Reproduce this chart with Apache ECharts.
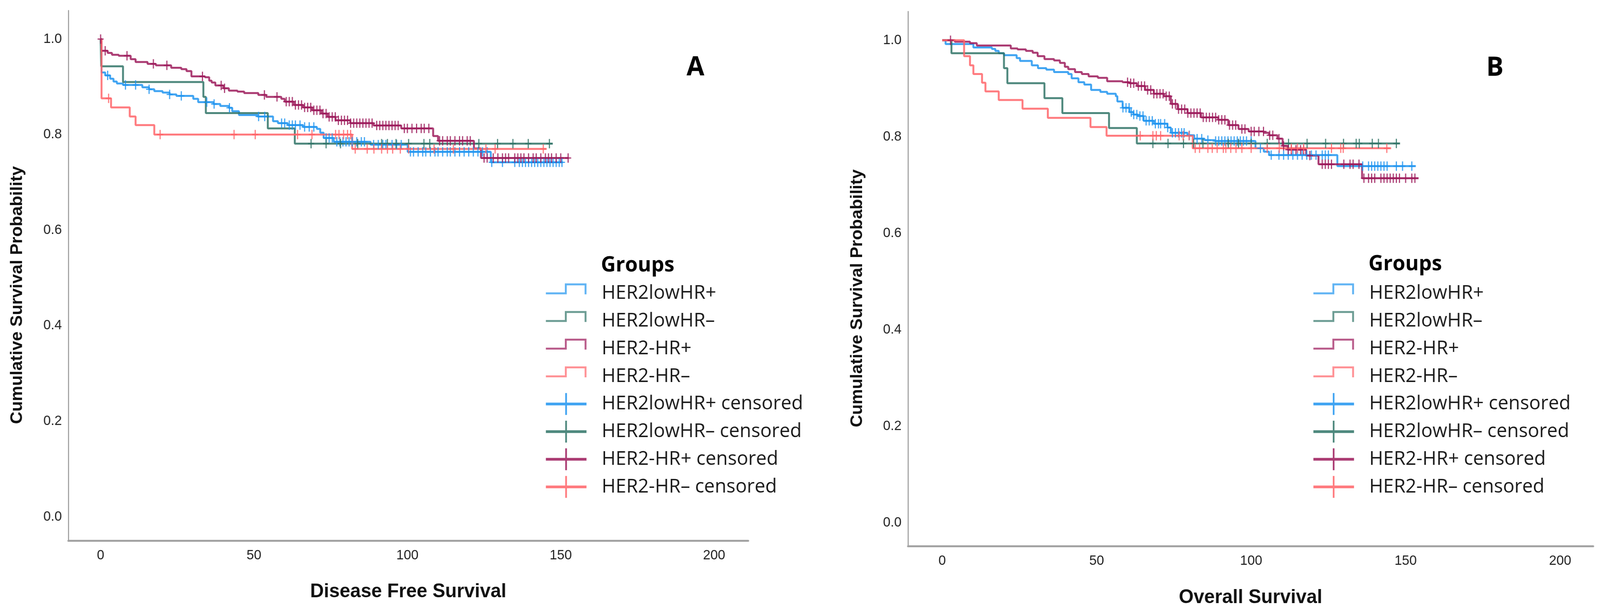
<!DOCTYPE html>
<html><head><meta charset="utf-8">
<script src="https://cdn.jsdelivr.net/npm/echarts@6/dist/echarts.min.js"></script>
<style>html,body{margin:0;padding:0;background:#fff;overflow:hidden}#c{width:4215px;height:1577px;transform-origin:0 0}</style>
</head><body><div id="c"></div>
<script>
const xTicks=[0,50,100,150,200];
const yTicks=[0,0.2,0.4,0.6,0.8,1.0];
const groupNames=['HER2lowHR+','HER2lowHR–','HER2-HR+','HER2-HR–'];
const groupColors=['#1E94F0','#2F7366','#9C1A5B','#FF6469'];
const xTitles=['Disease Free Survival','Overall Survival'];
const panelLetters=['A','B'];
const yTitle='Cumulative Survival Probability';
const legendTitle='Groups';

// Panel A: disease free survival, step points [time, survival]
const dfsLowPos=[[0,1.0],[0.3,0.930],[1.5,0.924],[3.1,0.917],[4.2,0.911],[5.3,0.907],[7.3,0.904],[13.6,0.899],[15.8,0.895],[17.5,0.891],[20.2,0.888],[22.5,0.884],[24.7,0.881],[30.2,0.875],[31.8,0.868],[36.8,0.864],[39,0.860],[41.8,0.856],[42.9,0.849],[45.1,0.841],[51.2,0.838],[56.2,0.828],[57.8,0.824],[61,0.820],[66,0.816],[70.5,0.812],[71.6,0.804],[72.7,0.793],[76,0.785],[88,0.779],[100.1,0.764],[127.2,0.742],[150.7,0.742]];
const dfsLowNeg=[[0,1.0],[0.2,0.943],[7.3,0.910],[33.5,0.879],[34.3,0.845],[54.5,0.813],[63.3,0.781],[147.4,0.781]];
const dfsNegPos=[[0,1.0],[0.3,0.9755],[2.3,0.971],[3.7,0.967],[5.9,0.965],[9.8,0.958],[11.4,0.952],[15.3,0.948],[18,0.945],[23,0.940],[26.3,0.937],[28,0.933],[29.6,0.922],[34,0.920],[35.4,0.913],[36.2,0.909],[37.4,0.903],[40,0.897],[41.8,0.892],[44.6,0.890],[46.8,0.887],[51.4,0.883],[54,0.879],[58.9,0.875],[60,0.869],[63,0.862],[66,0.857],[69,0.851],[72,0.844],[74,0.837],[76.6,0.830],[81.4,0.824],[89,0.819],[98,0.813],[108.4,0.797],[110,0.787],[121.7,0.771],[124,0.751],[152.6,0.751]];
const dfsNegNeg=[[0,1.0],[0.3,0.876],[3.4,0.857],[9.5,0.838],[11.4,0.820],[17.5,0.800],[82,0.770],[145.4,0.770]];
// Panel A censored times
const dfsLowPosCens=[2.3,8.1,11.4,15.8,22.5,26.3,34.6,37,42,51.5,53.5,59,60,61.5,62.5,63.5,65,66.5,68,69.5,73.5,74.5,75.5,77,78,79,80,81,82,83.5,85,86,89,90.5,92,93,95,96.5,98,101,102,103.5,105,106,107.5,109,110,111.5,113,114,115.5,117,118.5,120,121.5,123,124.5,126,127.5,131,135,136.5,137.5,138.5,139.5,140.5,141.5,142.5,143.5,144.5,145.5,146.5,147.5,148.5,149.5,150.4];
const dfsLowNegCens=[68.6,73.5,78.2,83.8,91.6,93.5,96.3,100.4,105.4,107.3,123.3,129.4,134.4,139.4,146.3];
const dfsNegPosCens=[0,1.5,8.6,17.2,21.6,33.2,39.3,40.4,53.4,57.5,60.5,61.5,62.5,63.5,64.5,65.5,66.5,67.5,68.5,69.5,70.5,71.5,72.5,73.5,74.5,75.5,76.5,77.5,78.5,79.5,80.5,81.5,82.5,83.5,84.5,85.5,86.5,87.5,88.5,90,91,92,93,94,95,96,97,99,100,101.5,103,104.5,105.5,107,110.5,111.5,113,114,115.5,117,118,119.5,120.5,125,126,128,129.5,131,132,133,135,136,137,138,139.5,141,142,143.5,145,146,147,148.5,150,152.4];
const dfsNegNegCens=[2.6,19.4,43.5,50.4,64.2,68.9,76.6,77.7,79.2,80.5,81.5,83,86.9,89.1,91.6,93.5,95.2,97.7,100.4,108.7,115,125.6,128.6,144.3];

// Panel B: overall survival
const osLowPos=[[0,1.0],[1.1,0.992],[10.1,0.985],[16.1,0.982],[17.2,0.978],[18.3,0.973],[20,0.969],[24.1,0.963],[25.2,0.957],[29,0.948],[31,0.942],[33.7,0.939],[36.2,0.934],[40.8,0.930],[41.9,0.921],[44.1,0.913],[46,0.908],[48.2,0.897],[51.2,0.893],[53.4,0.889],[56.2,0.884],[56.7,0.873],[58.4,0.860],[60.6,0.851],[61.9,0.846],[63.3,0.843],[65.2,0.833],[68.5,0.827],[72.9,0.819],[74,0.808],[79.4,0.803],[81.6,0.796],[84.9,0.793],[88.2,0.791],[101.4,0.776],[104.1,0.769],[105.8,0.762],[127.9,0.739],[153.3,0.739]];
const osLowNeg=[[0,1.0],[3,0.973],[20,0.942],[21.1,0.911],[33.1,0.880],[38.9,0.849],[54,0.818],[63,0.786],[148.2,0.786]];
const osNegPos=[[0,1.0],[4.1,0.997],[9,0.994],[11.2,0.989],[22.2,0.983],[24.4,0.981],[27.1,0.978],[29.3,0.974],[30.9,0.967],[33.1,0.961],[36.2,0.958],[38.1,0.953],[39.7,0.945],[40.8,0.940],[43,0.934],[45.2,0.930],[47.4,0.925],[50.4,0.922],[53.4,0.915],[58.4,0.913],[60.6,0.911],[63,0.905],[65.7,0.897],[68.5,0.889],[71.8,0.884],[74,0.868],[76.2,0.857],[79.4,0.849],[83.8,0.840],[89.3,0.835],[92.6,0.824],[95.9,0.816],[99.2,0.811],[104.1,0.808],[105.8,0.803],[108.5,0.796],[110.2,0.781],[111.8,0.773],[117.8,0.761],[121.8,0.743],[135.9,0.714],[154.2,0.714]];
const osNegNeg=[[0,1.0],[7.1,0.967],[9,0.948],[10.1,0.930],[12.9,0.912],[14,0.894],[18.3,0.876],[26,0.858],[34.2,0.839],[48,0.820],[53.2,0.802],[81.1,0.776],[145.3,0.776]];
// Panel B censored times
const osLowPosCens=[58.5,59.5,60.5,61.2,62,63,64,65,66,67,68,69,70,70.7,72,73,74.5,75.5,76.5,77.5,78.3,80,82.5,84,86,88.5,89.5,90.5,91.5,92.5,93.5,94.5,95.5,96.5,97.5,98.5,100,103,106.5,109,110.5,112,113.5,115,116.5,118,119.5,121,123,124,125,136.1,138,139,140,141,142,143,144,147,149,152];
const osLowNegCens=[68.2,73.1,78.1,81.4,84.4,92.6,95.9,100,105.2,112.1,118.1,124.1,129.9,134,135,139.2,141.2,147];
const osNegPosCens=[2.7,60,61,62,63.5,64.5,65.5,66.5,67.5,68.5,69.5,70.5,71.5,72.5,73.5,74.5,75.5,76.5,77.5,78.5,79.5,80.5,81.5,82.5,83.5,84.5,85.5,86.5,87.5,88.5,89.5,90.5,91.5,93,94,95,97,98,100,101,102.5,104,106,107,109,110.5,112,113,114.5,116,117,119,123,124,125,126,130,132,133,134.9,136.5,138,139,140,142,143,144,145,146,147,148,150,152,153];
const osNegNegCens=[64.1,68.2,69.3,70.7,76.7,78,79.9,81.9,83.3,86,87.4,89,91,91.8,93.4,95.1,97,100,105.2,109.1,113,115,117,126,129,129.8,143.9];

const panels=[
  {curves:[dfsLowPos,dfsLowNeg,dfsNegPos,dfsNegNeg],cens:[dfsLowPosCens,dfsLowNegCens,dfsNegPosCens,dfsNegNegCens]},
  {curves:[osLowPos,osLowNeg,osNegPos,osNegNeg],cens:[osLowPosCens,osLowNegCens,osNegPosCens,osNegNegCens]}
];

function survAt(curve,t){let v=curve[0][1];for(const p of curve){if(p[0]<=t)v=p[1];else break;}return v;}

const STEP_ICON='path://M0,28H50V5H107V33H102V10H55V33H0Z M0,56L0.01,56L0,56Z';
const CROSS_ICON='path://M0,24.5H107V31.5H0Z M51,0H55.5V56H51Z';
const CENS_SYMBOL='path://M6.5,0H9.5V24H6.5Z M0,10.5H16V13.5H0Z';

const grids=[
  {left:180,right:2244,top:27,bottom:193},
  {left:2392,right:18,top:29.5,bottom:179}
];
const xRanges=[[-10.52,211.1],[-11.06,210.7]];
const yRanges=[[-0.0499,1.0597],[-0.0486,1.0595]];
const xNameGaps=[106,107];
const yNameGaps=[112,111];

const axisFont='Liberation Sans';
const legendFont='Open Sans';
const xAxes=[],yAxes=[],series=[],legends=[],graphics=[];
panels.forEach((p,pi)=>{
  xAxes.push({type:'value',gridIndex:pi,min:xRanges[pi][0],max:xRanges[pi][1],
    name:xTitles[pi],nameLocation:'middle',nameGap:xNameGaps[pi],
    nameTextStyle:{fontFamily:axisFont,fontWeight:'bold',fontSize:50,color:'#111'},
    axisLine:{show:true,onZero:false,lineStyle:{color:'#A3A3A3',width:5}},
    axisTick:{show:false},splitLine:{show:false},
    axisLabel:{customValues:xTicks,margin:21,fontFamily:axisFont,fontSize:35,color:'#222'}});
  yAxes.push({type:'value',gridIndex:pi,min:yRanges[pi][0],max:yRanges[pi][1],
    name:yTitle,nameLocation:'middle',nameGap:yNameGaps[pi],nameRotate:90,
    nameTextStyle:{fontFamily:axisFont,fontWeight:'bold',fontSize:44,color:'#111',padding:[0,100,0,0]},
    axisLine:{show:true,onZero:false,lineStyle:{color:'#A3A3A3',width:3}},
    axisTick:{show:false},splitLine:{show:false},
    axisLabel:{customValues:yTicks,margin:17,fontFamily:axisFont,fontSize:35,color:'#222',formatter:v=>v.toFixed(1)}});
  p.curves.forEach((c,i)=>{
    series.push({type:'line',name:groupNames[i],xAxisIndex:pi,yAxisIndex:pi,data:c,step:'end',
      showSymbol:false,symbol:'none',color:groupColors[i],
      lineStyle:{width:5,color:groupColors[i],opacity:0.85},z:2,animation:false,silent:true});
  });
  p.cens.forEach((ts,i)=>{
    series.push({type:'scatter',name:groupNames[i]+' censored',xAxisIndex:pi,yAxisIndex:pi,
      data:ts.map(t=>[t,survAt(p.curves[i],t)]),symbol:CENS_SYMBOL,symbolSize:[16,24],
      color:groupColors[i],itemStyle:{color:groupColors[i],opacity:0.85},z:3,animation:false,silent:true});
  });
});

const legendData=[];
groupNames.forEach((n,i)=>legendData.push({name:n,icon:STEP_ICON,itemStyle:{color:groupColors[i],opacity:0.7,borderWidth:0}}));
groupNames.forEach((n,i)=>legendData.push({name:n+' censored',icon:CROSS_ICON,itemStyle:{color:groupColors[i],opacity:0.85,borderWidth:0}}));
const legendLefts=[1438,3460];
legendLefts.forEach(l=>legends.push({orient:'vertical',left:l,top:723,padding:0,itemWidth:107,itemHeight:56,itemGap:14.8,
  selectedMode:false,data:legendData,itemStyle:{borderWidth:0},
  textStyle:{fontFamily:legendFont,fontSize:50,color:'#1a1a1a',lineHeight:56,padding:[0,0,0,35]}}));

const letterPos=[[1832,174],[3938,175]];
const groupsPos=[[1583,680],[3605,677]];
panelLetters.forEach((L,i)=>{
  graphics.push({type:'text',x:letterPos[i][0],y:letterPos[i][1],style:{text:L,font:'bold 68px "Open Sans"',fill:'#000',align:'center',verticalAlign:'middle'}});
  graphics.push({type:'text',x:groupsPos[i][0],y:groupsPos[i][1],style:{text:legendTitle,font:'bold 54px "Open Sans"',fill:'#000',align:'left',verticalAlign:'middle'}});
});

const W=4215,H=1577;
const el=document.getElementById('c');
const vw=window.innerWidth||document.documentElement.clientWidth||W;
const vh=window.innerHeight||document.documentElement.clientHeight||H;
el.style.transform='scale('+(vw/W)+','+(vh/H)+')';
const chart=echarts.init(el,null,{renderer:'canvas',width:W,height:H});
chart.setOption({backgroundColor:'#fff',animation:false,grid:grids,xAxis:xAxes,yAxis:yAxes,series:series,legend:legends,graphic:graphics});
</script></body></html>
